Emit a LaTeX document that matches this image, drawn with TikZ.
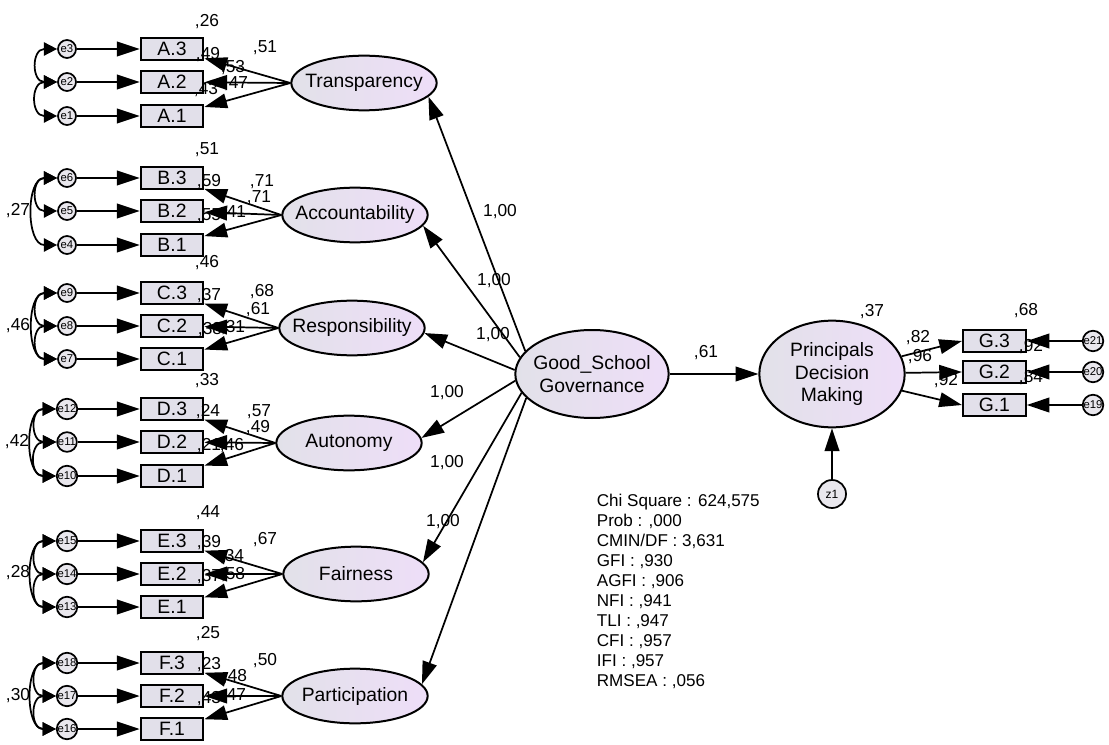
\documentclass[tikz,border=0pt]{standalone}
\usepackage{fontspec}
\setmainfont{Liberation Sans}
\usetikzlibrary{arrows.meta,shapes.geometric}

\definecolor{latleft}{RGB}{226,225,233}
\definecolor{latright}{RGB}{238,222,248}
\definecolor{boxgrey}{RGB}{226,224,234}
\definecolor{errgrey}{RGB}{233,231,237}

\begin{document}
\begin{tikzpicture}[->, >={Triangle[length=17pt,width=11pt]}, x=0.75pt, y=-0.75pt, line width=1.3pt, node distance=78.75pt, font=\fontsize{13}{15}\selectfont]
\tikzstyle{latent}=[ellipse, draw=black, line width=1.5pt, left color=latleft, right color=latright, minimum width=109pt, minimum height=41pt, inner sep=0pt]
\tikzstyle{every label}=[font=\fontsize{14.5}{17}\selectfont, align=center, inner sep=0pt]
\tikzstyle{item}=[rectangle, draw=black, line width=1.6pt, fill=boxgrey, minimum width=47pt, minimum height=16pt, inner sep=0pt, font=\fontsize{14.5}{16}\selectfont]
\tikzstyle{err}=[circle, draw=black, line width=1.3pt, fill=errgrey, minimum size=13.5pt, inner sep=0pt, font=\fontsize{8.5}{9}\selectfont]
\tikzstyle{val}=[inner sep=0pt]
\tikzstyle{cov}=[<->, >={Triangle[length=10pt,width=10pt]}, out=180, in=180, looseness=2]

\useasboundingbox (0,0) rectangle (1109,745);

% factors
\node[latent, label=center:Transparency]   (trans) at (364,83)  {};
\node[latent, label=center:Accountability] (acc)   at (355,215) {};
\node[latent, label=center:Responsibility] (resp)  at (352,328) {};
\node[latent, label=center:Autonomy]       (auton) at (349,443) {};
\node[latent, label=center:Fairness]       (fair)  at (356,574) {};
\node[latent, label=center:Participation]  (part)  at (355,696) {};
\node[latent, minimum width=115pt, minimum height=66pt, label=center:{Good\_School\\Governance}] (gsg) at (592,374) {};
\node[latent, minimum width=109pt, minimum height=80pt, label=center:{Principals\\Decision\\Making}] (pdm) at (832,374) {};
\node[err, minimum size=21pt, font=\fontsize{9}{10}\selectfont] (z1) at (832,494) {z1};

% indicators
\node[err]  (e3) at (67,49)   {e3};
\node[item] (A3) [right of=e3] {A.3};
\node[err]  (e2) at (67,82)   {e2};
\node[item] (A2) [right of=e2] {A.2};
\node[err]  (e1) at (67,116)  {e1};
\node[item] (A1) [right of=e1] {A.1};

\node[err]  (e6) at (67,178)  {e6};
\node[item] (B3) [right of=e6] {B.3};
\node[err]  (e5) at (67,211)  {e5};
\node[item] (B2) [right of=e5] {B.2};
\node[err]  (e4) at (67,245)  {e4};
\node[item] (B1) [right of=e4] {B.1};

\node[err]  (e9) at (67,293)  {e9};
\node[item] (C3) [right of=e9] {C.3};
\node[err]  (e8) at (67,326)  {e8};
\node[item] (C2) [right of=e8] {C.2};
\node[err]  (e7) at (67,359)  {e7};
\node[item] (C1) [right of=e7] {C.1};

\node[err]  (e12) at (67,409) {e12};
\node[item] (D3) [right of=e12] {D.3};
\node[err]  (e11) at (67,442) {e11};
\node[item] (D2) [right of=e11] {D.2};
\node[err]  (e10) at (67,476) {e10};
\node[item] (D1) [right of=e10] {D.1};

\node[err]  (e15) at (67,541) {e15};
\node[item] (E3) [right of=e15] {E.3};
\node[err]  (e14) at (67,574) {e14};
\node[item] (E2) [right of=e14] {E.2};
\node[err]  (e13) at (67,607) {e13};
\node[item] (E1) [right of=e13] {E.1};

\node[err]  (e18) at (67,663) {e18};
\node[item] (F3) [right of=e18] {F.3};
\node[err]  (e17) at (67,696) {e17};
\node[item] (F2) [right of=e17] {F.2};
\node[err]  (e16) at (67,729) {e16};
\node[item] (F1) [right of=e16] {F.1};

\node[err]  (e21) at (1093,341) {e21};
\node[item] (G3) [left of=e21, node distance=74pt] {G.3};
\node[err]  (e20) at (1093,372) {e20};
\node[item] (G2) [left of=e20, node distance=74pt] {G.2};
\node[err]  (e19) at (1093,405) {e19};
\node[item] (G1) [left of=e19, node distance=74pt] {G.1};

% estimates
\node[val] (smcA3) at (207,22)  {,26};
\node[val] (smcA2) at (208,55)  {,49};
\node[val] (smcA1) at (206,90)  {,43};
\node[val] (ldA3)  at (265,48)  {,51};
\node[val] (ldA2)  at (233,68)  {,53};
\node[val] (ldA1)  at (236,84)  {,47};

\node[val] (smcB3) at (207,150) {,51};
\node[val] (smcB2) at (209,182) {,59};
\node[val] (smcB1) at (209,216) {,55};
\node[val] (ldB3)  at (262,182) {,71};
\node[val] (ldB2)  at (259,198) {,71};
\node[val] (ldB1)  at (234,213) {,41};
\node[val] (covB)  at (18,211)  {,27};

\node[val] (smcC3) at (207,263) {,46};
\node[val] (smcC2) at (209,296) {,37};
\node[val] (smcC1) at (210,330) {,38};
\node[val] (ldC3)  at (262,292) {,68};
\node[val] (ldC2)  at (258,310) {,61};
\node[val] (ldC1)  at (233,328) {,31};
\node[val] (covC)  at (18,326)  {,46};

\node[val] (smcD3) at (207,381) {,33};
\node[val] (smcD2) at (208,412) {,24};
\node[val] (smcD1) at (209,446) {,21};
\node[val] (ldD3)  at (259,412) {,57};
\node[val] (ldD2)  at (258,428) {,49};
\node[val] (ldD1)  at (232,446) {,46};
\node[val] (covD)  at (17,442)  {,42};

\node[val] (smcE3) at (208,513) {,44};
\node[val] (smcE2) at (209,543) {,39};
\node[val] (smcE1) at (209,577) {,37};
\node[val] (ldE3)  at (265,540) {,67};
\node[val] (ldE2)  at (232,557) {,34};
\node[val] (ldE1)  at (233,575) {,58};
\node[val] (covE)  at (18,573)  {,28};

\node[val] (smcF3) at (208,634) {,25};
\node[val] (smcF2) at (209,665) {,23};
\node[val] (smcF1) at (209,699) {,43};
\node[val] (ldF3)  at (265,661) {,50};
\node[val] (ldF2)  at (235,677) {,48};
\node[val] (ldF1)  at (234,696) {,47};
\node[val] (covF)  at (18,696)  {,30};

\node[val] (wA) at (500,212) {1,00};
\node[val] (wB) at (494,281) {1,00};
\node[val] (wC) at (493,335) {1,00};
\node[val] (wD) at (447,393) {1,00};
\node[val] (wE) at (447,463) {1,00};
\node[val] (wF) at (443,522) {1,00};
\node[val] (wP) at (706,353) {,61};

\node[val] (smcP)  at (872,312)  {,37};
\node[val] (smcG3) at (1026,311) {,68};
\node[val] (ldG3)  at (918,338)  {,82};
\node[val] (ldG2)  at (920,357)  {,96};
\node[val] (ldG1)  at (946,381)  {,92};
\node[val] (smcG2) at (1031,347) {,92};
\node[val] (smcG1) at (1031,378) {,84};

\node[val, anchor=north west, align=left, font=\fontsize{12.8}{15}\selectfont] (fit) at (596,493)
  {Chi Square : 624,575\\Prob : ,000\\CMIN/DF : 3,631\\GFI : ,930\\AGFI : ,906\\NFI : ,941\\TLI : ,947\\CFI : ,957\\IFI : ,957\\RMSEA : ,056};

% paths
\path (e3) edge (A3) (e2) edge (A2) (e1) edge (A1);
\path (e6) edge (B3) (e5) edge (B2) (e4) edge (B1);
\path (e9) edge (C3) (e8) edge (C2) (e7) edge (C1);
\path (e12) edge (D3) (e11) edge (D2) (e10) edge (D1);
\path (e15) edge (E3) (e14) edge (E2) (e13) edge (E1);
\path (e18) edge (F3) (e17) edge (F2) (e16) edge (F1);
\path (e21) edge (G3) (e20) edge (G2) (e19) edge (G1);

\path (trans.west) edge (A3) edge (A2) edge (A1);
\path (acc.west)   edge (B3) edge (B2) edge (B1);
\path (resp.west)  edge (C3) edge (C2) edge (C1);
\path (auton.west) edge (D3) edge (D2) edge (D1);
\path (fair.west)  edge (E3) edge (E2) edge (E1);
\path (part.west)  edge (F3) edge (F2) edge (F1);

\path (gsg.161) edge (trans.-12);
\path (gsg.167) edge (acc.-9);
\path (gsg.177) edge (resp.-4);
\path (gsg.185) edge (auton.4);
\path (gsg.195) edge (fair.10);
\path (gsg.200) edge (part.10);
\path (gsg) edge (pdm);
\path (z1) edge (pdm);
\path (pdm) edge (G3.west) edge (G2.west) edge (G1.west);

% covariances
\path (e3) edge[cov] (e2) (e2) edge[cov] (e1);
\path (e6) edge[cov] (e5) (e6) edge[cov, looseness=1.2] (e4);
\path (e9) edge[cov] (e8) (e8) edge[cov] (e7) (e9) edge[cov, looseness=1.2] (e7);
\path (e12) edge[cov] (e11) (e11) edge[cov] (e10) (e12) edge[cov, looseness=1.2] (e10);
\path (e15) edge[cov] (e14) (e14) edge[cov] (e13) (e15) edge[cov, looseness=1.2] (e13);
\path (e18) edge[cov] (e17) (e17) edge[cov] (e16) (e18) edge[cov, looseness=1.2] (e16);

\end{tikzpicture}
\end{document}
